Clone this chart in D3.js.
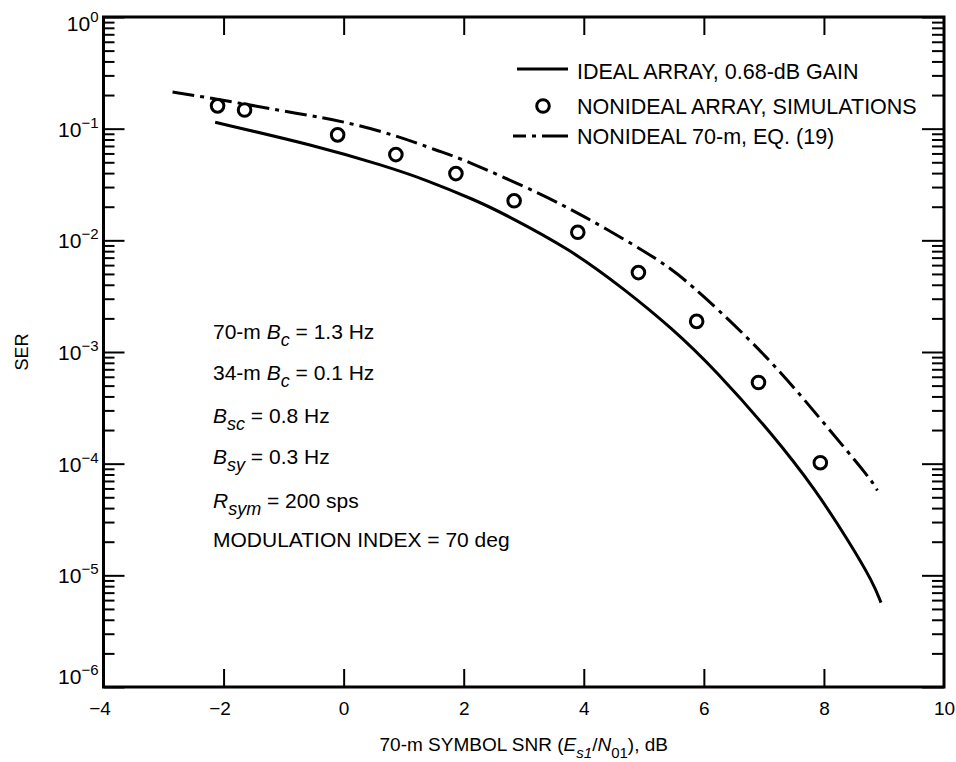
<!DOCTYPE html>
<html>
<head>
<meta charset="utf-8">
<script src="https://cdn.jsdelivr.net/npm/d3@7"></script>
<style>
  body { margin: 0; background: #fff; }
  svg { display: block; }
  text { font-family: "Liberation Sans", Arial, Helvetica, sans-serif; fill: #000; white-space: pre; }
</style>
</head>
<body>
<svg id="chart" width="956" height="762"></svg>
<script>
// ---------------- data ----------------
const xTickValues = [-4, -2, 0, 2, 4, 6, 8, 10];
const yTickExponents = [0, -1, -2, -3, -4, -5, -6];

// Ideal array, 0.68-dB gain (solid line)
const idealSNR = [-2.14, -0.47, 0.65, 1.37, 2.21, 2.66, 3.78, 4.68, 5.46, 6.20, 7.17, 7.85, 8.42, 8.82, 8.95];
const idealSER = [0.114, 0.0705, 0.047, 0.0349, 0.0227, 0.0174, 0.0083, 0.00363, 0.00165, 0.000684, 0.000176, 5.94e-5, 2.0e-5, 8.6e-6, 5.7e-6];

// Nonideal array, simulations (circles)
const simSNR = [-2.1, -1.65, -0.1, 0.87, 1.87, 2.84, 3.9, 4.91, 5.88, 6.91, 7.94];
const simSER = [0.16, 0.147, 0.088, 0.0586, 0.0396, 0.0226, 0.0118, 0.00514, 0.00188, 0.000533, 0.000102];

// Nonideal 70-m, Eq. (19) (dash-dot line)
const eqSNR = [-2.85, -2.26, -0.61, -0.06, 0.86, 1.58, 1.98, 3.32, 3.99, 4.89, 5.44, 5.90, 7.09, 7.94, 8.79, 8.89];
const eqSER = [0.213, 0.19, 0.132, 0.118, 0.088, 0.0628, 0.0537, 0.0256, 0.0166, 0.00877, 0.00567, 0.00356, 0.000883, 0.000252, 7.18e-5, 5.76e-5];

const legendLabels = ["IDEAL ARRAY, 0.68-dB GAIN", "NONIDEAL ARRAY, SIMULATIONS", "NONIDEAL 70-m, EQ. (19)"];

// ---------------- layout ----------------
const L = 103.5, R = 944, T = 17, B = 687;
const svg = d3.select("#chart");
const x = d3.scaleLinear().domain([-4, 10]).range([L, R]);
const y = d3.scaleLog().domain([1e-6, 1]).range([B, T]);

const decades = yTickExponents.map(e => Math.pow(10, e));
const minors = [];
for (let e = -6; e < 0; e++) for (let m = 2; m <= 9; m++) minors.push(m * Math.pow(10, e));
const innerX = xTickValues.filter(v => v > -4 && v < 10);

function styleAxis(g) {
  g.select(".domain").remove();
  g.selectAll(".tick line").attr("stroke", "#000").attr("stroke-width", 2);
}

// left axis ticks (inward)
svg.append("g").attr("transform", `translate(${L},0)`)
  .call(d3.axisLeft(y).tickValues(minors).tickSize(-11).tickFormat(""))
  .call(styleAxis);
svg.append("g").attr("transform", `translate(${L},0)`)
  .call(d3.axisLeft(y).tickValues(decades).tickSize(-21).tickFormat(""))
  .call(styleAxis);
// right axis ticks (inward)
svg.append("g").attr("transform", `translate(${R},0)`)
  .call(d3.axisRight(y).tickValues(minors).tickSize(-12).tickFormat(""))
  .call(styleAxis);
svg.append("g").attr("transform", `translate(${R},0)`)
  .call(d3.axisRight(y).tickValues(decades).tickSize(-22).tickFormat(""))
  .call(styleAxis);
// top ticks
svg.append("g").attr("transform", `translate(0,${T})`)
  .call(d3.axisTop(x).tickValues(innerX).tickSize(-18).tickFormat(""))
  .call(styleAxis);
// bottom ticks + labels
const xAxisG = svg.append("g").attr("transform", `translate(0,${B})`)
  .call(d3.axisBottom(x).tickValues(xTickValues).tickSizeInner(-18).tickSizeOuter(0).tickPadding(10)
        .tickFormat(d => d < 0 ? "\u2212" + Math.abs(d) : String(d)))
  .call(styleAxis);
xAxisG.selectAll(".tick line").filter(d => d === -4 || d === 10).remove();
xAxisG.selectAll(".tick text")
  .attr("font-family", '"Liberation Sans", Arial, sans-serif')
  .attr("font-size", 19).attr("fill", "#000").attr("dy", "0.95em")
  .attr("dx", d => d < 0 ? -4 : 0);

// y tick labels with superscripts
yTickExponents.forEach(e => {
  let base = y(Math.pow(10, e)) + 8;
  if (e === 0) base = y(1) + 14;
  if (e === -6) base = y(1e-6) - 3;
  const t = svg.append("text").attr("x", L - 5).attr("y", base)
    .attr("text-anchor", "end").attr("font-size", 21);
  t.append("tspan").text("10");
  t.append("tspan").attr("dy", -9).attr("font-size", 15)
    .text(e === 0 ? "0" : "\u2212" + Math.abs(e));
});

// frame
svg.append("rect").attr("x", L).attr("y", T).attr("width", R - L).attr("height", B - T)
  .attr("fill", "none").attr("stroke", "#000").attr("stroke-width", 3);

// ---------------- marks ----------------
const line = d3.line().x(d => x(d[0])).y(d => y(d[1])).curve(d3.curveBasis);
svg.append("path").datum(idealSNR.map((v, i) => [v, idealSER[i]]))
  .attr("d", line).attr("fill", "none").attr("stroke", "#000").attr("stroke-width", 3);
svg.append("path").datum(eqSNR.map((v, i) => [v, eqSER[i]]))
  .attr("d", line).attr("fill", "none").attr("stroke", "#000").attr("stroke-width", 3)
  .attr("stroke-dasharray", "22,6,4,6");
svg.append("g").selectAll("circle").data(simSNR.map((v, i) => [v, simSER[i]])).join("circle")
  .attr("cx", d => x(d[0])).attr("cy", d => y(d[1])).attr("r", 6.3)
  .attr("fill", "#fff").attr("stroke", "#000").attr("stroke-width", 3);

// ---------------- legend ----------------
const lg = svg.append("g");
lg.append("line").attr("x1", 517).attr("x2", 568).attr("y1", 69).attr("y2", 69)
  .attr("stroke", "#000").attr("stroke-width", 3);
lg.append("circle").attr("cx", 543).attr("cy", 106).attr("r", 6.3)
  .attr("fill", "#fff").attr("stroke", "#000").attr("stroke-width", 3);
lg.append("line").attr("x1", 513).attr("x2", 568).attr("y1", 136).attr("y2", 136)
  .attr("stroke", "#000").attr("stroke-width", 3).attr("stroke-dasharray", "13,6,4,6,30");
[79, 114, 144].forEach((yy, i) => {
  lg.append("text").attr("x", 577).attr("y", yy).attr("font-size", 21.5).text(legendLabels[i]);
});

// ---------------- annotations ----------------
function rich(x0, y0, segs, size, subSize, anchor) {
  const t = svg.append("text").attr("x", x0).attr("y", y0).attr("font-size", size)
    .attr("text-anchor", anchor || "start");
  let cur = 0;
  segs.forEach(s => {
    const target = s.sub ? 7 : 0;
    t.append("tspan").attr("dy", target - cur)
      .attr("font-size", s.sub ? subSize : size)
      .attr("font-style", s.it ? "italic" : "normal")
      .text(s.t);
    cur = target;
  });
  return t;
}
const notes = [
  [{t: "70-m "}, {t: "B", it: 1}, {t: "c", it: 1, sub: 1}, {t: " = 1.3 Hz"}],
  [{t: "34-m "}, {t: "B", it: 1}, {t: "c", it: 1, sub: 1}, {t: " = 0.1 Hz"}],
  [{t: "B", it: 1}, {t: "sc", it: 1, sub: 1}, {t: " = 0.8 Hz"}],
  [{t: "B", it: 1}, {t: "sy", it: 1, sub: 1}, {t: " = 0.3 Hz"}],
  [{t: "R", it: 1}, {t: "sym", it: 1, sub: 1}, {t: " = 200 sps"}],
  [{t: "MODULATION INDEX = 70 deg"}]
];
const noteY = [339, 380, 423, 464, 508, 547];
notes.forEach((n, i) => rich(213, noteY[i], n, 21, 18));

// axis titles
rich((L + R) / 2, 751, [
  {t: "70-m SYMBOL SNR ("}, {t: "E", it: 1}, {t: "s1", it: 1, sub: 1}, {t: "/"},
  {t: "N", it: 1}, {t: "01", sub: 1}, {t: "), dB"}
], 19, 15, "middle");

svg.append("text").attr("transform", `translate(28,${(T + B) / 2}) rotate(-90)`)
  .attr("text-anchor", "middle").attr("font-size", 18).text("SER");
</script>
</body>
</html>
